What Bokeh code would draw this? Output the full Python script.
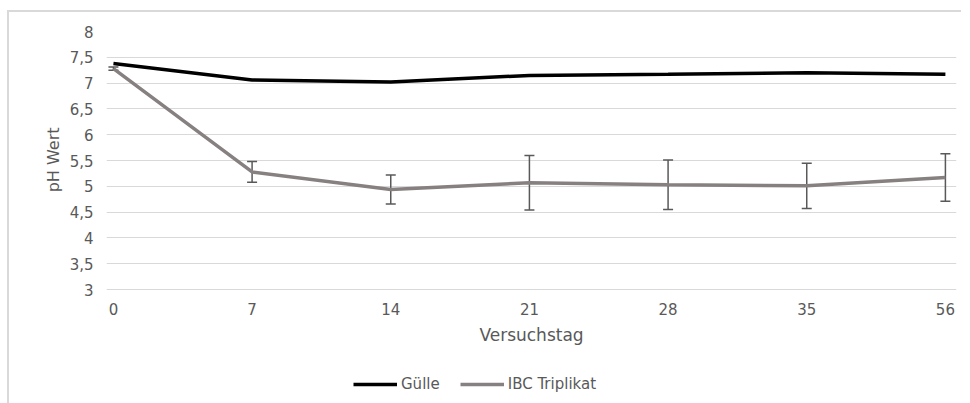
from bokeh.plotting import figure
from bokeh.models import (Range1d, FixedTicker, CustomJSTickFormatter, Whisker, TeeHead,
                          ColumnDataSource, Legend, LegendItem, Title)
from bokeh.embed import file_html
from bokeh.resources import INLINE

# ---- data ----
days = ["0", "7", "14", "21", "28", "35", "56"]
guelle = [7.38, 7.06, 7.02, 7.15, 7.17, 7.20, 7.17]
ibc = [7.28, 5.28, 4.94, 5.07, 5.03, 5.01, 5.17]
ibc_err = [0.03, 0.20, 0.28, 0.53, 0.48, 0.44, 0.46]
y_ticks = [3, 3.5, 4, 4.5, 5, 5.5, 6, 6.5, 7, 7.5, 8]

x_idx = list(range(len(days)))
src = ColumnDataSource(dict(
    x=x_idx, g=guelle, i=ibc,
    up=[v + e for v, e in zip(ibc, ibc_err)],
    lo=[v - e for v, e in zip(ibc, ibc_err)],
))

TXT = "#595959"
FONT = "DejaVu Sans"

# frame extends below the value axis so that x labels, title and legend sit inside it
p = figure(output_backend="svg", toolbar_location=None,
           x_range=Range1d(-0.05, len(days) - 1 + 0.08), y_range=Range1d(0.6, 8),
           min_border_left=97, min_border_top=19, min_border_right=5, min_border_bottom=0,
           frame_width=850, frame_height=382)
p.styles = {"border-top": "2px solid #D9D9D9", "border-left": "2px solid #D9D9D9",
            "margin-left": "7px", "margin-top": "10px"}
p.outline_line_color = None
p.background_fill_color = "white"
p.border_fill_color = "white"

p.xgrid.grid_line_color = None
p.ygrid.grid_line_color = "#D9D9D9"
p.ygrid.grid_line_width = 1
p.ygrid.ticker = FixedTicker(ticks=y_ticks)
p.ygrid.bounds = (x_idx[0], x_idx[-1])

p.xaxis.ticker = FixedTicker(ticks=x_idx)
p.xaxis.major_label_overrides = {i: d for i, d in zip(x_idx, days)}
p.xaxis.fixed_location = y_ticks[0]
p.yaxis.ticker = FixedTicker(ticks=y_ticks)
p.yaxis.formatter = CustomJSTickFormatter(code="return tick.toString().replace('.', ',');")

for ax in (p.xaxis[0], p.yaxis[0]):
    ax.axis_line_color = None
    ax.major_tick_line_color = None
    ax.minor_tick_line_color = None
    ax.major_label_text_color = TXT
    ax.major_label_text_font = FONT
    ax.major_label_text_font_size = "15px"
    ax.axis_label_text_color = TXT
    ax.axis_label_text_font = FONT
    ax.axis_label_text_font_style = "normal"

p.xaxis.axis_label = "Versuchstag"
p.xaxis.axis_label_text_font_size = "17px"
p.xaxis.major_label_standoff = 7
p.xaxis.axis_label_standoff = 7
p.yaxis.major_label_standoff = 7

ytitle = Title(text="pH Wert", align="right", offset=96, text_font=FONT,
               text_font_size="16px", text_font_style="normal", text_color=TXT,
               standoff=8)
p.add_layout(ytitle, "left")

r_g = p.line("x", "g", source=src, line_color="black", line_width=3.5)
r_i = p.line("x", "i", source=src, line_color="#878080", line_width=3.5)

wh = Whisker(base="x", upper="up", lower="lo", source=src,
             line_color="#595959", line_width=1.5,
             upper_head=TeeHead(size=10, line_color="#595959", line_width=1.5),
             lower_head=TeeHead(size=10, line_color="#595959", line_width=1.5))
p.add_layout(wh)

legend = Legend(items=[LegendItem(label="Gülle", renderers=[r_g]),
                       LegendItem(label="IBC Triplikat", renderers=[r_i])],
                orientation="horizontal", location=(247, 20),
                background_fill_alpha=0, border_line_color=None,
                label_text_font=FONT, label_text_font_size="15px", label_text_color=TXT,
                glyph_width=44, glyph_height=16, label_standoff=4, spacing=20,
                padding=4, margin=0)
p.add_layout(legend, "center")

open("out.html", "w").write(file_html(p, INLINE))
